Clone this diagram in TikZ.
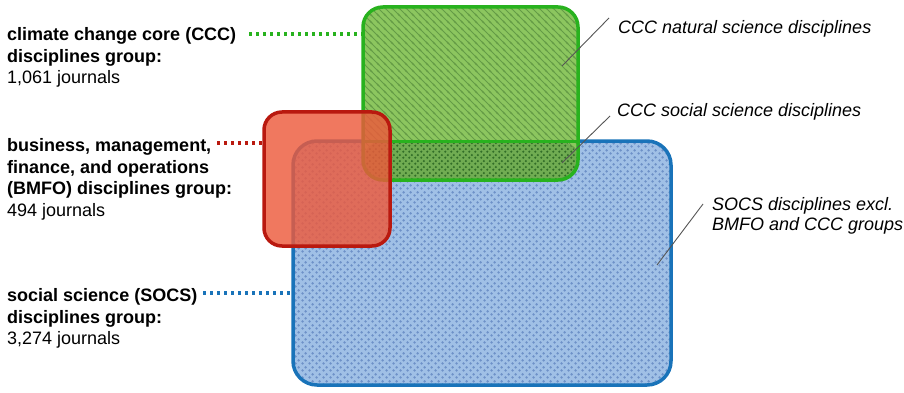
\documentclass[tikz,border=0pt]{standalone}
\usepackage{fontspec}
\setmainfont{Liberation Sans}
\usetikzlibrary{patterns.meta}
\definecolor{gline}{RGB}{40,178,30}
\definecolor{gfill}{RGB}{140,198,95}
\definecolor{ghatch}{RGB}{100,155,70}
\definecolor{gover}{RGB}{112,172,82}
\definecolor{gdots}{RGB}{50,110,40}
\definecolor{bline}{RGB}{25,115,185}
\definecolor{bfill}{RGB}{160,192,230}
\definecolor{bdots}{RGB}{110,145,200}
\definecolor{rline}{RGB}{185,25,15}
\definecolor{rfill}{RGB}{237,90,60}
\definecolor{pgray}{RGB}{85,85,85}
\tikzdeclarepattern{name=bdotpat, type=uncolored,
  bounding box={(0pt,0pt) and (7pt,7pt)}, tile size={(7pt,7pt)},
  code={\fill (1.75pt,1.75pt) circle [radius=1.5pt]; \fill (5.25pt,5.25pt) circle [radius=1.5pt];}}
\tikzdeclarepattern{name=gdotpat, type=uncolored,
  bounding box={(0pt,0pt) and (6pt,6pt)}, tile size={(6pt,6pt)},
  code={\fill (1.5pt,1.5pt) circle [radius=1.35pt]; \fill (4.5pt,4.5pt) circle [radius=1.35pt];}}
\tikzdeclarepattern{name=ghatchpat, type=uncolored,
  bounding box={(-1pt,-1pt) and (8pt,8pt)}, tile size={(7pt,7pt)},
  code={\draw[line width=0.8pt] (-1pt,8pt) -- (8pt,-1pt); \draw[line width=0.8pt] (-1pt,1pt) -- (1pt,-1pt); \draw[line width=0.8pt] (6pt,8pt) -- (8pt,6pt);}}
\tikzset{
  box/.style={inner sep=0pt, outer sep=0pt, line width=3.5pt},
  leader/.style={line width=3.5pt, dash pattern=on 3.2pt off 3.8pt},
  pointer/.style={draw=pgray, line width=0.9pt},
  lbl/.style={anchor=north west, inner sep=0pt, align=left, font=\fontsize{18}{21.8}\selectfont},
  rlbl/.style={anchor=north west, inner sep=0pt, align=left, font=\fontsize{18}{20}\selectfont\itshape},
}
\begin{document}
\begin{tikzpicture}[x=1pt,y=-1pt]
\useasboundingbox (0,0) rectangle (904,393);
% SOCS box
\node[box, draw=bline, rounded corners=24pt, minimum width=378pt, minimum height=244pt,
  preaction={fill=bfill}, pattern=bdotpat, pattern color=bdots]
  (socs) at (482,263) {};
% CCC box
\node[box, draw=gline, rounded corners=20pt, minimum width=215pt, minimum height=173pt,
  preaction={fill=gfill}, pattern=ghatchpat, pattern color=ghatch,
  path picture={
    \fill[gover] (path picture bounding box.south west) rectangle ([yshift=39pt]path picture bounding box.south east);
    \fill[pattern=gdotpat, pattern color=gdots] (path picture bounding box.south west) rectangle ([yshift=39pt]path picture bounding box.south east);
    \draw[gline, line width=3pt] ([yshift=39pt]path picture bounding box.south west) -- ([yshift=39pt]path picture bounding box.south east);
  }]
  (ccc) at (470.5,93.5) {};
% BMFO box
\node[box, draw=rline, fill=rfill, fill opacity=0.82, rounded corners=18pt, minimum width=126pt, minimum height=134pt]
  (bmfo) at (327,179) {};
% left labels
\node[lbl] (tccc) at (7,27) {\bfseries climate change core (CCC)\\\bfseries disciplines group:\\1,061 journals};
\node[lbl] (tbmfo) at (7,138) {\bfseries business, management,\\\bfseries finance, and operations\\\bfseries (BMFO) disciplines group:\\494 journals};
\node[lbl] (tsocs) at (7,288) {\bfseries social science (SOCS)\\\bfseries disciplines group:\\3,274 journals};
% leaders
\coordinate (lg) at (249,34);
\coordinate (lr) at (217,143);
\coordinate (lb) at (203,293);
\draw[leader, draw=gline] (lg) -- (lg -| ccc.west);
\draw[leader, draw=rline] (lr) -- (lr -| bmfo.west);
\draw[leader, draw=bline] (lb) -- (lb -| socs.west);
% right labels
\node[rlbl] (nat) at (618,20) {CCC natural science disciplines};
\node[rlbl] (soc) at (617,103) {CCC social science disciplines};
\node[rlbl] (exc) at (712,197) {SOCS disciplines excl.\\BMFO and CCC groups};
% pointers
\coordinate (p1a) at (562,66);  \coordinate (p1b) at (609,18);
\coordinate (p2a) at (562,163); \coordinate (p2b) at (610,116);
\coordinate (p3a) at (657,265); \coordinate (p3b) at (703,204);
\draw[pointer] (p1a) -- (p1b);
\draw[pointer] (p2a) -- (p2b);
\draw[pointer] (p3a) -- (p3b);
\end{tikzpicture}
\end{document}
